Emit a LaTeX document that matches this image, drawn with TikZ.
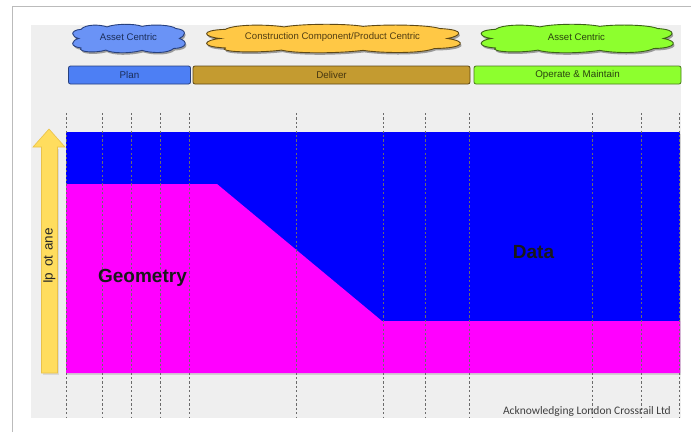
\documentclass[tikz,border=0pt]{standalone}
\usepackage{fontspec}
\setmainfont{Liberation Sans}
\newfontfamily\credfont{Carlito}

\definecolor{panelgray}{HTML}{EFEFEF}
\definecolor{framegray}{HTML}{BBBBBB}
\definecolor{datablue}{HTML}{0000FF}
\definecolor{geomag}{HTML}{FF00FF}
\definecolor{planfill}{HTML}{4D7FF4}
\definecolor{planedge}{HTML}{27407E}
\definecolor{delivfill}{HTML}{C49B30}
\definecolor{delivedge}{HTML}{5E4815}
\definecolor{opfill}{HTML}{8DFF2E}
\definecolor{opedge}{HTML}{4A7A1C}
\definecolor{cloudblue}{HTML}{6A93F6}
\definecolor{cloudyellow}{HTML}{FFC845}
\definecolor{arrowyellow}{HTML}{FFDD5E}
\definecolor{arrowedge}{HTML}{E9C24A}

% outline of a flat cloud in a unit box (y grows downwards)
\newcommand\cloudoutline{(0.06,0.5)
  .. controls (0,0.45) and (-0.03,0.2) .. (0.08,0.16)
  .. controls (0.12,-0.04) and (0.25,-0.02) .. (0.31,0.07)
  .. controls (0.38,-0.05) and (0.55,-0.06) .. (0.62,0.05)
  .. controls (0.72,-0.04) and (0.88,0.0) .. (0.92,0.13)
  .. controls (1.03,0.18) and (1.0,0.42) .. (0.95,0.5)
  .. controls (1.03,0.6) and (1.02,0.86) .. (0.9,0.87)
  .. controls (0.85,1.06) and (0.7,1.05) .. (0.62,0.94)
  .. controls (0.5,1.07) and (0.35,1.05) .. (0.3,0.93)
  .. controls (0.2,1.05) and (0.05,1.0) .. (0.08,0.85)
  .. controls (-0.03,0.8) and (0.0,0.55) .. (0.06,0.5) -- cycle}

% \cloudat{left}{top}{width}{height}{fill}{edge}
\newcommand\cloudat[6]{%
  \begin{scope}[shift={(#1+1.2,#2+2)}, xscale=#3, yscale=#4]
    \fill[black, opacity=0.35] \cloudoutline;
  \end{scope}
  \begin{scope}[shift={(#1,#2)}, xscale=#3, yscale=#4]
    \filldraw[fill=#5, draw=#6, line width=0.9pt] \cloudoutline;
  \end{scope}}

\tikzset{
  cloudtext/.style={inner sep=0pt, font=\fontsize{9.6}{10}\selectfont},
  phasebar/.style={rectangle, rounded corners=2pt, minimum height=18pt,
    inner sep=0pt, line width=0.8pt, font=\fontsize{9.8}{10}\selectfont},
  phaseline/.style={draw=black!58, line width=0.7pt, dash pattern=on 2.2pt off 2.2pt},
  bigword/.style={font=\bfseries\fontsize{19}{20}\selectfont, text=black!90, inner sep=0pt}
}

\begin{document}
\begin{tikzpicture}[x=1pt,y=-1pt]
\useasboundingbox (0,0) rectangle (691,432);
\fill[white] (0,0) rectangle (691,432);
\draw[framegray, line width=1pt] (12,432) -- (12,6) -- (691,6);
\fill[panelgray] (31,25) rectangle (681,418);

% stacked areas: data above, geometry below
\fill[black!18] (67,134) rectangle (681,375);
\fill[datablue] (66,132) rectangle (680,373);
\fill[geomag] (66,184) -- (217,184) -- (382,321) -- (680,321) -- (680,373) -- (66,373) -- cycle;

% stage boundaries
\foreach \x in {66,102,131,160,189,296,383,425,469,592,641,679}
  \draw[phaseline] (\x,113) -- (\x,418);

% rising arrow on the left
\fill[black!15] (43,149) -- (59,149) -- (59,375) -- (43,375) -- cycle;
\draw[arrowedge, fill=arrowyellow, line width=0.6pt]
  (49,129) -- (65,147) -- (57.5,147) -- (57.5,373) -- (41.5,373) -- (41.5,147) -- (33,147) -- cycle;
\node[rotate=90, font=\fontsize{13.5}{14}\selectfont, text=black!85, inner sep=0pt] (axis) at (49.5,256)
  {Ip\hspace{6pt}ot\hspace{4.5pt}ane};

% centricity clouds
\cloudat{72}{25}{113}{27}{cloudblue}{planedge}
\cloudat{205}{25}{255}{27}{cloudyellow}{delivedge}
\cloudat{480}{25}{193}{27}{opfill}{opedge!80!black}
\node[cloudtext, text=planedge!70!black] (c1) at (128.5,37.5) {Asset Centric};
\node[cloudtext, text=delivedge!85!black] (c2) at (332.5,37.5) {Construction Component/Product Centric};
\node[cloudtext, text=opedge!55!black] (c3) at (576.5,37.5) {Asset Centric};

% lifecycle phases
\node[phasebar, draw=planedge, fill=planfill, text=planedge!70!black,
  minimum width=122pt] (plan) at (129.5,75) {Plan};
\node[phasebar, draw=delivedge, fill=delivfill, text=delivedge!75!black,
  minimum width=277pt] (deliver) at (331.5,75) {Deliver};
\node[phasebar, draw=opedge, fill=opfill, text=opedge!55!black,
  minimum width=207pt] (operate) at (577.5,75) {Operate \& Maintain};

% area labels
\node[bigword] (geom) at (142.5,278) {Geometry};
\node[bigword] (data) at (533.5,252) {Data};

% credit line
\node[font=\credfont\fontsize{11.5}{13}\selectfont, text=black!75, inner sep=0pt, anchor=east]
  (credit) at (671,411) {Acknowledging London Crossrail Ltd};
\end{tikzpicture}
\end{document}
